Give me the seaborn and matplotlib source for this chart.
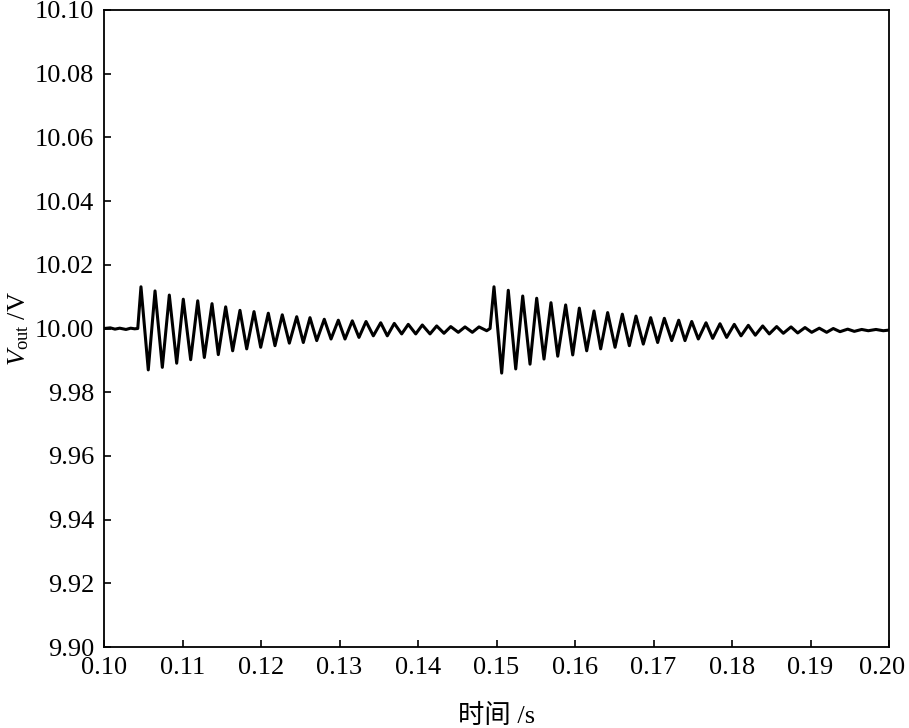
import numpy as np
import pandas as pd
import matplotlib
matplotlib.use("Agg")
import matplotlib.pyplot as plt
import matplotlib.transforms as mtransforms
import seaborn as sns

# ---- data ----
base_t = [0.1000, 0.1008, 0.1014, 0.1020, 0.1028, 0.1034, 0.1039, 0.1043]
base_v = [10.0000, 10.0002, 9.9998, 10.0001, 9.9997, 10.0001, 9.9999, 10.0000]

ev1_peak_t = [0.10471, 0.10650, 0.10832, 0.11010, 0.11194, 0.11376, 0.11550, 0.11732,
              0.11911, 0.12093, 0.12271, 0.12455, 0.12624, 0.12806, 0.12985, 0.13163,
              0.13338, 0.13525, 0.13698, 0.13876, 0.14055, 0.14238, 0.14417, 0.14599, 0.14777]
ev1_peak_v = [10.0131, 10.0118, 10.0105, 10.0092, 10.0087, 10.0078, 10.0068, 10.0057,
              10.0053, 10.0048, 10.0043, 10.0037, 10.0034, 10.0029, 10.0026, 10.0024,
              10.0022, 10.0018, 10.0016, 10.0013, 10.0011, 10.0008, 10.0006, 10.0005, 10.0005]
ev1_trough_t = [0.10564, 0.10743, 0.10926, 0.11104, 0.11278, 0.11456, 0.11639, 0.11818,
                0.11996, 0.12178, 0.12361, 0.12539, 0.12710, 0.12892, 0.13070, 0.13248,
                0.13431, 0.13609, 0.13792, 0.13971, 0.14153, 0.14331, 0.14513, 0.14692, 0.14875]
ev1_trough_v = [9.9870, 9.9878, 9.9891, 9.9902, 9.9909, 9.9918, 9.9930, 9.9936,
                9.9941, 9.9946, 9.9954, 9.9956, 9.9962, 9.9967, 9.9967, 9.9972,
                9.9977, 9.9977, 9.9983, 9.9983, 9.9983, 9.9985, 9.9988, 9.9988, 9.9993]

gap_t = [0.14918]
gap_v = [10.0000]

ev2_peak_t = [0.14968, 0.15150, 0.15334, 0.15512, 0.15694, 0.15881, 0.16055, 0.16242,
              0.16416, 0.16603, 0.16777, 0.16964, 0.17138, 0.17321, 0.17487, 0.17669,
              0.17847, 0.18029, 0.18208, 0.18391, 0.18569, 0.18752, 0.18930, 0.19112,
              0.19290, 0.19474, 0.19652, 0.19834]
ev2_peak_v = [10.0131, 10.0120, 10.0102, 10.0095, 10.0081, 10.0074, 10.0064, 10.0055,
              10.0050, 10.0045, 10.0039, 10.0034, 10.0032, 10.0026, 10.0022, 10.0018,
              10.0015, 10.0013, 10.0010, 10.0008, 10.0006, 10.0005, 10.0003, 10.0001,
              10.0000, 9.9998, 9.9997, 9.9997]
ev2_trough_t = [0.15066, 0.15245, 0.15427, 0.15605, 0.15780, 0.15971, 0.16149, 0.16327,
                0.16510, 0.16692, 0.16870, 0.17053, 0.17232, 0.17401, 0.17571, 0.17754,
                0.17932, 0.18115, 0.18297, 0.18475, 0.18654, 0.18837, 0.19015, 0.19206,
                0.19376, 0.19558, 0.19736, 0.19927]
ev2_trough_v = [9.9860, 9.9873, 9.9888, 9.9904, 9.9913, 9.9917, 9.9930, 9.9936,
                9.9941, 9.9946, 9.9951, 9.9956, 9.9962, 9.9962, 9.9967, 9.9969,
                9.9972, 9.9977, 9.9979, 9.9983, 9.9985, 9.9986, 9.9988, 9.9988,
                9.9990, 9.9991, 9.9993, 9.9993]

end_t = [0.2000]
end_v = [9.9995]

x_ticks = [0.10, 0.11, 0.12, 0.13, 0.14, 0.15, 0.16, 0.17, 0.18, 0.19, 0.20]
y_ticks = [9.90, 9.92, 9.94, 9.96, 9.98, 10.00, 10.02, 10.04, 10.06, 10.08, 10.10]
x_label = "时间 /s"
y_label = r"$V_{\mathrm{out}}$ /V"

# ---- build table ----
t_all = (base_t + ev1_peak_t + ev1_trough_t + gap_t + ev2_peak_t + ev2_trough_t + end_t)
v_all = (base_v + ev1_peak_v + ev1_trough_v + gap_v + ev2_peak_v + ev2_trough_v + end_v)
df = pd.DataFrame({"t": t_all, "v": v_all}).sort_values("t").reset_index(drop=True)

# ---- style ----
sns.set_theme(style="white")
plt.rcParams["font.family"] = ["Liberation Serif", "Noto Sans CJK SC"]
plt.rcParams["mathtext.fontset"] = "custom"
plt.rcParams["mathtext.rm"] = "Liberation Serif"
plt.rcParams["mathtext.it"] = "Liberation Serif:italic"

fig = plt.figure(figsize=(9.09, 7.28), dpi=100)
ax = fig.add_axes([104 / 909, 1 - 647 / 728, (889 - 104) / 909, (647 - 10) / 728])

sns.lineplot(data=df, x="t", y="v", ax=ax, color="black", linewidth=2.2,
             estimator=None, sort=True)
ax.lines[0].set_solid_joinstyle("round")

ax.set_xlim(0.10, 0.20)
ax.set_ylim(9.90, 10.10)
ax.set_xticks(x_ticks)
ax.set_yticks(y_ticks)
ax.set_xticklabels([f"{v:.2f}" for v in x_ticks])
ax.set_yticklabels([f"{v:.2f}" for v in y_ticks])
ax.tick_params(axis="both", direction="in", length=5, width=1.2,
               labelsize=19, colors="black", bottom=True, left=True,
               top=False, right=False)
ax.tick_params(axis="x", pad=7)
ax.tick_params(axis="y", pad=7)
for s in ax.spines.values():
    s.set_color("black")
    s.set_linewidth(1.3)

# keep the last x tick label inside the figure, as in the reference
last = ax.get_xticklabels()[-1]
last.set_transform(last.get_transform() +
                   mtransforms.ScaledTranslation(-5 / 72, 0, fig.dpi_scale_trans))

ax.set_xlabel(x_label, fontsize=19, color="black", labelpad=18)
ax.set_ylabel(y_label, fontsize=19, color="black", labelpad=3)

fig.savefig("out.png", dpi=100, facecolor="white")
